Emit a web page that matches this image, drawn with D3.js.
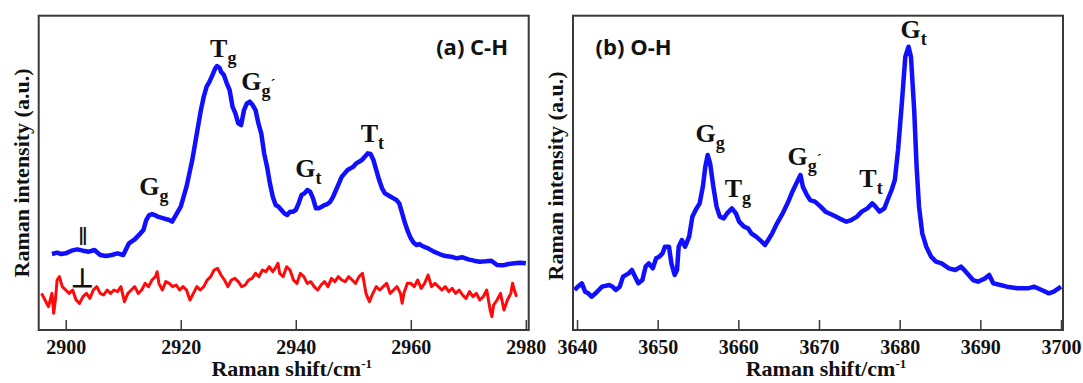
<!DOCTYPE html>
<html>
<head>
<meta charset="utf-8">
<script src="https://cdn.jsdelivr.net/npm/d3@7"></script>
<style>
  body { margin: 0; background: #fff; }
  .frame { fill: none; stroke: #3a3a3a; stroke-width: 2; }
  .tick text { font-family: "Liberation Serif", "Times New Roman", serif; font-weight: bold; font-size: 20px; fill: #111; }
  .tick line { stroke: #3a3a3a; stroke-width: 1.5; }
  .axtitle { font-family: "Liberation Serif", "Times New Roman", serif; font-weight: bold; font-size: 22px; fill: #111; }
  .peak { font-family: "Liberation Serif", "Times New Roman", serif; font-weight: bold; font-size: 26px; fill: #111; }
  .panel { font-family: "Open Sans", "Noto Sans", sans-serif; font-weight: bold; font-size: 22px; fill: #111; }
</style>
</head>
<body>
<svg id="chart" width="1083" height="383"></svg>
<script>
// ---- (a) C-H region: parallel polarisation (blue)
const chParX = [2897.6, 2898.5, 2899.2, 2900, 2901, 2902, 2903, 2904, 2905, 2906, 2907, 2908, 2909, 2910,
  2911, 2912, 2913, 2913.5, 2914, 2914.5, 2915, 2915.5, 2916, 2917, 2918, 2918.5, 2919, 2920, 2920.5,
  2921, 2921.5, 2922, 2922.5, 2923, 2923.5, 2924, 2924.5, 2925, 2925.5, 2926, 2926.3, 2926.8, 2927,
  2927.5, 2928, 2928.5, 2929, 2929.5, 2930, 2930.5, 2931, 2931.5, 2932, 2932.5, 2933, 2933.5, 2934,
  2934.5, 2935, 2935.5, 2936, 2936.5, 2937, 2937.5, 2938, 2938.5, 2939, 2939.5, 2940, 2940.5, 2941,
  2941.5, 2942, 2942.5, 2943, 2943.5, 2944, 2944.5, 2945, 2945.5, 2946, 2946.5, 2947, 2947.5, 2948,
  2948.5, 2949, 2949.5, 2950, 2950.5, 2951, 2951.5, 2952, 2952.5, 2953, 2953.5, 2954, 2954.5, 2955,
  2955.5, 2956, 2956.5, 2957, 2957.5, 2958, 2958.5, 2959, 2959.5, 2960, 2960.5, 2961, 2961.5, 2962,
  2963, 2964, 2965, 2966, 2967, 2968, 2969, 2970, 2971, 2972, 2973, 2974, 2975, 2976, 2977, 2978,
  2979, 2980];
const chParY = [228, 232, 228, 230, 238, 242, 238, 235, 240, 225, 222, 225, 230, 225,
  260, 272, 290, 300, 330, 345, 348, 345, 340, 335, 330, 325, 340, 370, 400,
  430, 470, 510, 560, 610, 660, 700, 730, 745, 765, 785, 792, 785, 775,
  765, 740, 720, 670, 650, 620, 615, 660, 680, 685, 675, 660, 620, 590,
  530, 490, 440, 400, 375, 370, 360, 350, 345, 355, 355, 360, 380, 405,
  410, 420, 415, 395, 365, 365, 370, 375, 378, 385, 400, 420, 440, 460,
  470, 480, 485, 490, 500, 505, 510, 520, 530, 528, 510, 480, 450, 425,
  410, 405, 400, 395, 390, 380, 350, 320, 295, 275, 262, 255, 258, 252,
  245, 235, 228, 222, 220, 215, 218, 212, 208, 205, 206, 208, 195, 194, 198, 200,
  202, 200];

// ---- (a) C-H region: perpendicular polarisation (red)
const chPerpX = [2895.8, 2896.4, 2897.0, 2897.6, 2897.9, 2898.2, 2898.5, 2898.9, 2899.4, 2900.0,
  2900.6, 2901.2, 2901.8, 2902.4, 2903.0, 2903.6, 2904.2, 2904.8, 2905.4, 2906.0, 2906.6, 2907.2,
  2907.8, 2908.4, 2909.0, 2909.6, 2910.2, 2910.8, 2911.4, 2912.0, 2912.6, 2913.2, 2913.8, 2914.4,
  2915.0, 2915.6, 2915.9, 2916.2, 2916.8, 2917.4, 2918.0, 2918.6, 2919.2, 2919.8, 2920.4, 2921.0,
  2921.6, 2922.2, 2922.8, 2923.4, 2924.0, 2924.6, 2925.2, 2925.8, 2926.4, 2927.0, 2927.6, 2928.2,
  2928.8, 2929.4, 2930.0, 2930.6, 2931.2, 2931.8, 2932.4, 2933.0, 2933.6, 2934.2, 2934.8, 2935.4,
  2936.0, 2936.6, 2936.9, 2937.2, 2937.8, 2938.4, 2939.0, 2939.6, 2940.2, 2940.8, 2941.4, 2942.0,
  2942.6, 2943.2, 2943.8, 2944.4, 2945.0, 2945.6, 2946.2, 2946.8, 2947.4, 2948.0, 2948.6, 2949.2,
  2949.8, 2950.4, 2951.0, 2951.6, 2951.9, 2952.2, 2952.8, 2953.4, 2954.0, 2954.6, 2955.2, 2955.8,
  2956.4, 2957.0, 2957.6, 2958.2, 2958.5, 2958.8, 2959.4, 2960.0, 2960.6, 2961.2, 2961.8, 2962.4,
  2963.0, 2963.6, 2964.2, 2964.8, 2965.4, 2966.0, 2966.6, 2967.2, 2967.8, 2968.4, 2969.0, 2969.6,
  2970.2, 2970.8, 2971.4, 2972.0, 2972.6, 2973.2, 2973.8, 2974.1, 2974.4, 2975.0, 2975.6, 2976.2,
  2976.8, 2977.4, 2977.7, 2978.0, 2978.4];
const chPerpY = [110, 90, 70, 110, 50, 90, 150, 160, 130, 120,
  110, 120, 90, 80, 100, 110, 95, 120, 130, 110, 105, 120,
  110, 120, 115, 130, 85, 110, 120, 130, 110, 120, 140, 130,
  150, 160, 175, 140, 120, 145, 140, 130, 135, 120, 130, 120,
  90, 110, 130, 120, 130, 150, 160, 180, 185, 165, 150, 130,
  150, 155, 145, 130, 135, 150, 155, 170, 160, 180, 175, 190,
  175, 190, 200, 170, 160, 190, 180, 150, 140, 170, 160, 140,
  145, 130, 120, 135, 145, 130, 155, 145, 160, 150, 145, 160,
  150, 140, 160, 170, 140, 110, 85, 110, 130, 120, 130, 140,
  110, 120, 130, 110, 80, 110, 140, 140, 130, 150, 125, 140,
  165, 130, 140, 130, 120, 130, 115, 125, 110, 120, 105, 95,
  115, 100, 110, 90, 100, 120, 60, 40, 75, 90, 110, 60,
  90, 110, 140, 120, 100];

// ---- (b) O-H region (blue)
const ohX = [3639.7, 3640.1, 3640.6, 3641.0, 3641.4, 3641.8, 3642.3, 3642.7, 3643.1, 3644.0, 3644.4,
  3644.8, 3645.3, 3645.7, 3646.4, 3646.8, 3647.2, 3647.6, 3648.1, 3648.5, 3648.9, 3649.4, 3649.8,
  3650.2, 3650.6, 3650.9, 3651.4, 3651.7, 3652.1, 3652.4, 3652.6, 3653.0, 3653.4, 3653.9, 3654.3,
  3654.7, 3655.2, 3655.6, 3655.9, 3656.2, 3656.5, 3656.9, 3657.3, 3657.7, 3658.2, 3658.6, 3659.2,
  3659.7, 3660.1, 3660.7, 3661.2, 3661.6, 3662.2, 3662.9, 3663.3, 3663.7, 3664.2, 3664.8, 3665.5,
  3666.1, 3666.7, 3667.2, 3667.7, 3668.0, 3668.5, 3668.9, 3669.5, 3670.2, 3670.8, 3671.7, 3672.5,
  3673.4, 3674.0, 3674.7, 3675.3, 3676.0, 3676.6, 3677.0, 3677.5, 3678.1, 3678.5, 3679.0, 3679.4,
  3679.8, 3680.3, 3680.7, 3681.1, 3681.4, 3681.8, 3682.1, 3682.4, 3682.8, 3683.3, 3683.9, 3684.5,
  3685.2, 3686.1, 3686.9, 3687.6, 3688.2, 3689.1, 3689.7, 3690.6, 3691.1, 3691.6, 3692.5, 3693.3,
  3694.6, 3695.9, 3696.7, 3697.6, 3698.5, 3699.1, 3699.7, 3700.0];
const ohY = [120, 130, 140, 115, 110, 100, 110, 120, 130, 135, 130,
  120, 130, 160, 170, 180, 160, 140, 150, 190, 200, 185, 215,
  220, 230, 250, 250, 200, 165, 180, 250, 270, 250, 280, 340,
  360, 380, 430, 490, 525, 500, 430, 370, 340, 335, 350, 365,
  350, 325, 310, 305, 290, 280, 265, 255, 270, 290, 320, 350,
  380, 415, 440, 465, 430, 405, 390, 385, 370, 355, 345, 335,
  325, 330, 340, 355, 365, 380, 370, 355, 365, 390, 420, 450,
  540, 690, 820, 850, 820, 660, 490, 370, 290, 250, 220, 205,
  200, 185, 180, 190, 175, 150, 145, 155, 165, 140, 135, 130,
  125, 125, 130, 120, 110, 115, 125, 130];

const chTicks = [2900, 2920, 2940, 2960, 2980];
const ohTicks = [3640, 3650, 3660, 3670, 3680, 3690, 3700];

// peak labels: base letter, subscript, wavenumber of left edge, intensity at baseline
const chLabels = [
  {base: "G", sub: "g", prime: false, x: 2912.8, y: 405},
  {base: "T", sub: "g", prime: false, x: 2925.1, y: 820},
  {base: "G", sub: "g", prime: true, x: 2930.5, y: 720},
  {base: "G", sub: "t", prime: false, x: 2939.9, y: 460},
  {base: "T", sub: "t", prime: false, x: 2951.3, y: 565}
];
const ohLabels = [
  {base: "G", sub: "g", prime: false, x: 3654.7, y: 565},
  {base: "T", sub: "g", prime: false, x: 3658.3, y: 400},
  {base: "G", sub: "g", prime: true, x: 3666.1, y: 495},
  {base: "T", sub: "t", prime: false, x: 3675.0, y: 430},
  {base: "G", sub: "t", prime: false, x: 3680.1, y: 875}
];

const svg = d3.select("#chart");
const plotTop = 15.7, plotBottom = 330;

function drawPanel(p) {
    let x = d3.scaleLinear().domain(p.domain).range([p.left, p.right]);
    let y = d3.scaleLinear().domain([0, 943]).range([plotBottom, plotTop]);
    let g = svg.append("g");

    // axis with inward ticks
    g.append("g")
        .attr("transform", "translate(0," + plotBottom + ")")
        .call(d3.axisBottom(x).tickValues(p.ticks).tickSizeInner(-10).tickSizeOuter(0).tickPadding(10)
            .tickFormat(d3.format("d")))
        .call(a => a.select(".domain").remove());

    let line = d3.line().x(d => x(d[0])).y(d => y(d[1]));
    for (let s of p.series) {
        g.append("path")
            .datum(d3.zip(s.x, s.y))
            .attr("d", line)
            .attr("fill", "none")
            .attr("stroke", s.color)
            .attr("stroke-width", s.width)
            .attr("stroke-linejoin", "round");
    }

    g.append("rect").attr("class", "frame")
        .attr("x", p.left).attr("y", plotTop)
        .attr("width", p.right - p.left).attr("height", plotBottom - plotTop);

    for (let l of p.labels) {
        let t = g.append("text").attr("class", "peak")
            .attr("x", x(l.x)).attr("y", y(l.y));
        t.append("tspan").text(l.base);
        t.append("tspan").attr("dy", 7).attr("font-size", 18).text(l.sub);
        if (l.prime) t.append("tspan").attr("dy", -8).attr("font-size", 15).text("´");
    }

    g.append("text").attr("class", "panel")
        .attr("x", x(p.title.x)).attr("y", y(p.title.y))
        .attr("text-anchor", p.title.anchor)
        .text(p.title.text);

    let xt = g.append("text").attr("class", "axtitle")
        .attr("x", (p.left + p.right) / 2 + 8).attr("y", 376)
        .attr("text-anchor", "middle");
    xt.append("tspan").text("Raman shift/cm");
    xt.append("tspan").attr("dy", -8).attr("font-size", 13).text("-1");

    g.append("text").attr("class", "axtitle")
        .attr("font-size", 21)
        .attr("transform", "translate(" + p.ytx + "," + p.yty + ") rotate(-90)")
        .attr("text-anchor", "middle")
        .attr("dy", "0.35em")
        .text("Raman intensity (a.u.)");

    return {x: x, y: y, g: g};
}

let a = drawPanel({
    domain: [2895.3, 2980.5], left: 38.7, right: 528.7, ticks: chTicks,
    series: [
        {x: chParX, y: chParY, color: "#1010ff", width: 4.5},
        {x: chPerpX, y: chPerpY, color: "#ff0a0a", width: 3}
    ],
    labels: chLabels,
    title: {text: "(a) C-H", x: 2976.9, y: 825, anchor: "end"},
    ytx: 21.7, yty: 173
});

// polarisation marks
a.g.append("text").attr("class", "peak").attr("font-size", 26)
    .attr("x", a.x(2903)).attr("y", a.y(255)).attr("text-anchor", "middle").text("‖");
a.g.append("text").attr("class", "peak").attr("font-size", 24)
    .attr("x", a.x(2903)).attr("y", a.y(130)).attr("text-anchor", "middle").text("⊥");

drawPanel({
    domain: [3639.5, 3700.25], left: 573, right: 1063, ticks: ohTicks,
    series: [{x: ohX, y: ohY, color: "#1010ff", width: 4.5}],
    labels: ohLabels,
    title: {text: "(b) O-H", x: 3642.3, y: 825, anchor: "start"},
    ytx: 555, yty: 176
});
</script>
</body>
</html>
